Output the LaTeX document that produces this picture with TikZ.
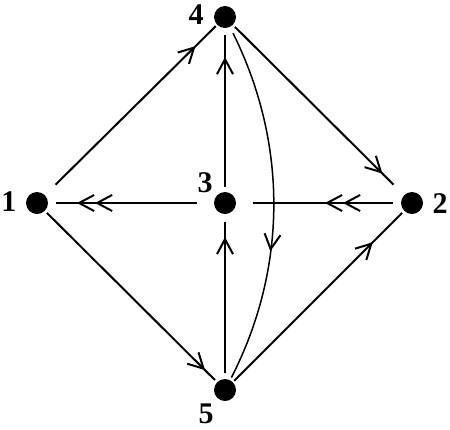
\documentclass[tikz,border=0pt]{standalone}
\usepackage{fontspec}
\setmainfont{Liberation Serif}
\usetikzlibrary{arrows.meta,decorations.markings}
\begin{document}
\begin{tikzpicture}[x=1pt,y=-1pt,
  dot/.style={circle,fill=black,minimum size=22pt,inner sep=0pt,outer sep=0pt},
  lbl/.style={font=\fontsize{30}{30}\selectfont\bfseries,inner sep=0pt},
  conn/.style={line width=2pt},
  barbat/.style={postaction={decorate},decoration={markings,
    mark=at position #1 with {\arrow{Straight Barb[length=15pt,width=16pt,line width=2pt]}}}},
  dblbarbat/.style 2 args={postaction={decorate},decoration={markings,
    mark=at position #1 with {\arrow{Straight Barb[length=15pt,width=16pt,line width=2pt]}},
    mark=at position #2 with {\arrow{Straight Barb[length=15pt,width=16pt,line width=2pt]}}}},
  ]
\useasboundingbox (0,0) rectangle (450,429);
\node[dot] (n4) at (225,17) {};
\node[dot] (n1) at (37,203) {};
\node[dot] (n3) at (225,203) {};
\node[dot] (n2) at (412,203) {};
\node[dot] (n5) at (225,390) {};
\node[lbl] (l4) at (196,15) {4};
\node[lbl] (l1) at (9,202) {1};
\node[lbl] (l3) at (205,183) {3};
\node[lbl] (l2) at (440,204) {2};
\node[lbl] (l5) at (206,414) {5};
\draw[conn, shorten <=15pt, shorten >=2pt, barbat=212pt] (n1) -- (n4);
\draw[conn, shorten <=3pt, shorten >=15pt, barbat=211pt] (n4) -- (n2);
\draw[conn, shorten <=3pt, shorten >=3pt, barbat=226pt] (n1) -- (n5);
\draw[conn, shorten <=2pt, shorten >=3pt, barbat=198pt] (n5) -- (n2);
\draw[conn, shorten <=5pt, shorten >=7pt, barbat=135pt] (n3) -- (n4);
\draw[conn, shorten <=6pt, shorten >=8pt, barbat=142pt] (n5) -- (n3);
\draw[conn, shorten <=17pt, shorten >=8pt, dblbarbat={119pt}{137pt}] (n3) -- (n1);
\draw[conn, shorten <=8pt, shorten >=17pt, dblbarbat={58pt}{76pt}] (n2) -- (n3);
\draw[conn, line width=1.5pt, shorten <=7pt, shorten >=3pt, barbat=0.63] (n4) .. controls (287.7,143.3) and (287.7,267.7) .. (n5);
\end{tikzpicture}
\end{document}
